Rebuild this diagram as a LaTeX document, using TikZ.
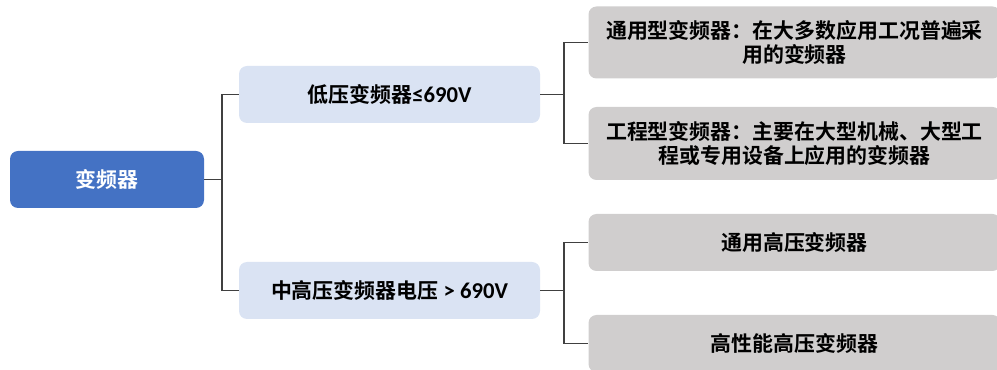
\documentclass[tikz,border=0pt]{standalone}
\usepackage{fontspec}
\setmainfont{Noto Sans CJK SC}[BoldFont={Noto Sans CJK SC Bold}]
\newfontfamily\latinfont{Carlito}
\definecolor{rootblue}{HTML}{4472C4}
\definecolor{lvlone}{HTML}{DAE3F3}
\definecolor{lvltwo}{HTML}{D0CECE}
\definecolor{linegray}{HTML}{404040}
\begin{document}
\begin{tikzpicture}[x=0.75pt,y=-0.75pt,
  basebox/.style={rounded corners=6pt,inner sep=0pt,align=center,font=\fontsize{15.7pt}{18pt}\selectfont\bfseries},
  rootbox/.style={basebox,fill=rootblue,text=white,minimum width=145.5pt,minimum height=42.75pt},
  midbox/.style={basebox,fill=lvlone,text=black,minimum width=225.75pt,minimum height=42.75pt},
  leafbox/.style={basebox,fill=lvltwo,text=black,minimum width=309pt},
  conn/.style={draw=linegray,line width=0.8pt}]
\useasboundingbox (0,0) rectangle (997,370);
\clip (0,0) rectangle (997,370);
\node[rootbox] (root) at (107,179.5) {变频器};
\node[midbox] (low) at (389.5,94.5) {低压变频器{\latinfont\fontsize{17pt}{18pt}\selectfont\bfseries ≤690V}};
\node[midbox] (high) at (389.5,290.5) {中高压变频器电压{\latinfont\fontsize{17pt}{18pt}\selectfont\bfseries\ > 690V}};
\node[leafbox,minimum height=54pt] (r1) at (794.5,42.5) {通用型变频器：在大多数应用工况普遍采\\用的变频器};
\node[leafbox,minimum height=54.75pt] (r2) at (794.5,143.5) {工程型变频器：主要在大型机械、大型工\\程或专用设备上应用的变频器};
\node[leafbox,minimum height=42.75pt] (r3) at (794.5,242.5) {通用高压变频器};
\node[leafbox,minimum height=42.75pt] (r4) at (794.5,343.5) {高性能高压变频器};
\coordinate (j0) at (222,179.5);
\coordinate (j1) at (564,94.5);
\coordinate (j2) at (564,290.5);
\draw[conn] (root.east) -- (j0);
\draw[conn] (j0) |- (low.west);
\draw[conn] (j0) |- (high.west);
\draw[conn] (low.east) -- (j1);
\draw[conn] (j1) |- (r1.west);
\draw[conn] (j1) |- (r2.west);
\draw[conn] (high.east) -- (j2);
\draw[conn] (j2) |- (r3.west);
\draw[conn] (j2) |- (r4.west);
\end{tikzpicture}
\end{document}
